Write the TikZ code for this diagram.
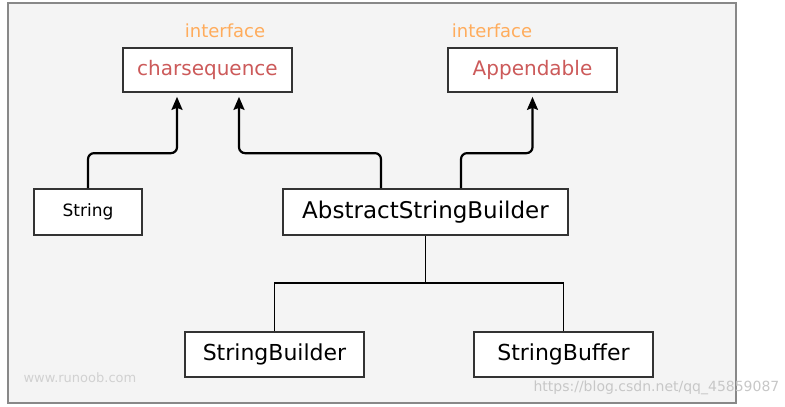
\documentclass[tikz,border=0pt]{standalone}
\usepackage{fontspec}
\setmainfont{DejaVu Sans}
\usepackage{tikz}
\usetikzlibrary{arrows.meta}

\definecolor{framegray}{RGB}{136,136,136}
\definecolor{panelgray}{RGB}{244,244,244}
\definecolor{ifacered}{RGB}{204,90,90}
\definecolor{ifaceorange}{RGB}{255,172,92}
\definecolor{boxgray}{RGB}{51,51,51}

\begin{document}
\begin{tikzpicture}[x=1pt,y=-1pt,
    cls/.style={draw=boxgray, line width=1.7pt, fill=white, inner sep=0pt},
    iface/.style={cls, text=ifacered, font=\fontsize{20}{20}\selectfont},
    tag/.style={text=ifaceorange, font=\fontsize{18}{18}\selectfont},
    arr/.style={line width=2.2pt, rounded corners=6pt, -{Stealth[length=13pt,width=11pt,inset=2pt]}, shorten >=4pt},
    link/.style={line width=1.8pt},
    wmark/.style={text=black!18, font=\fontsize{13}{13}\selectfont}]
\useasboundingbox (0,0) rectangle (785,407);
\draw[framegray, fill=panelgray, line width=1.8pt] (8,3) rectangle (736,403);

% interfaces
\node[iface, minimum width=169pt, minimum height=44pt] (cs) at (207.5,70) {charsequence};
\node[iface, minimum width=169pt, minimum height=44pt] (app) at (532.5,70) {Appendable};
\node[tag] (cstag) at (225,31) {interface};
\node[tag] (apptag) at (492,31) {interface};

% classes
\node[cls, minimum width=108pt, minimum height=46pt, font=\fontsize{17}{17}\selectfont] (str) at (88,212) {String};
\node[cls, minimum width=285pt, minimum height=46pt, font=\fontsize{23}{23}\selectfont] (asb) at (425.5,212) {AbstractStringBuilder};
\node[cls, minimum width=179pt, minimum height=45pt, font=\fontsize{22}{22}\selectfont] (sbd) at (274.5,354.5) {StringBuilder};
\node[cls, minimum width=179pt, minimum height=45pt, font=\fontsize{22}{22}\selectfont] (sbf) at (563.5,354.5) {StringBuffer};

% implements
\draw[arr] (str.north) -- ++(0,-35) -| ([xshift=-30.5pt]cs.south);
\draw[arr] ([xshift=-44.5pt]asb.north) -- ++(0,-35) -| ([xshift=31.5pt]cs.south);
\draw[arr] ([xshift=35.5pt]asb.north) -- ++(0,-35) -| (app.south);

% extends
\coordinate (fork) at (425.5,283);
\draw[link] (asb.south) -- (fork);
\draw[link] (sbd.north) |- (fork) -| (sbf.north);

\node[wmark, anchor=west] (site) at (20,378) {www.runoob.com};
\node[wmark, anchor=west, text=black!22, font=\fontsize{14}{14}\selectfont] (blog) at (530,388) {https://blog.csdn.net/qq\_45859087};
\end{tikzpicture}
\end{document}
